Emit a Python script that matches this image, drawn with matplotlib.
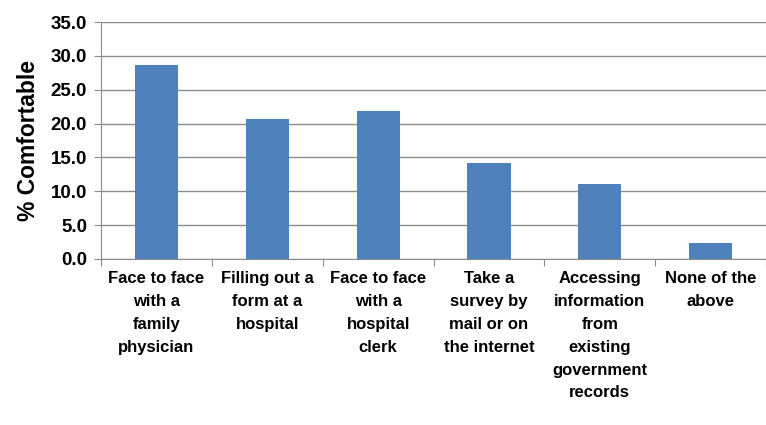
import numpy as np
import matplotlib.pyplot as plt

categories = ['Face to face\nwith a\nfamily\nphysician',
              'Filling out a\nform at a\nhospital',
              'Face to face\nwith a\nhospital\nclerk',
              'Take a\nsurvey by\nmail or on\nthe internet',
              'Accessing\ninformation\nfrom\nexisting\ngovernment\nrecords',
              'None of the\nabove']
comfortable = [28.6, 20.6, 21.9, 14.1, 11.1, 2.4]
yticks = [0, 5, 10, 15, 20, 25, 30, 35]

fig = plt.figure(figsize=(7.66, 4.25), dpi=100)
ax = fig.add_axes([0.132, 0.391, 0.868, 0.557])

x = np.arange(len(categories))
ax.bar(x, comfortable, width=0.39, color='#4F81BD', zorder=3)

ax.set_xlim(-0.5, len(categories) - 0.5)
ax.set_ylim(0, 35)
ax.set_yticks(yticks)
ax.set_yticklabels(['%.1f' % v for v in yticks], fontsize=13.5, fontweight='bold',
                   family=['Liberation Sans', 'DejaVu Sans'])
ax.yaxis.grid(True, color='#8c8c8c', linewidth=1, zorder=0)

# tick marks at category boundaries, labels centered under bars
ax.set_xticks(np.arange(len(categories) + 1) - 0.5)
ax.set_xticklabels([])
ax.set_xticks(x, minor=True)
ax.set_xticklabels(categories, minor=True, fontsize=12, fontweight='bold',
                   family=['Liberation Sans', 'DejaVu Sans'],
                   linespacing=1.65, va='top')
ax.tick_params(axis='x', which='minor', length=0, pad=9)
ax.tick_params(axis='x', which='major', length=5, color='#8c8c8c', direction='out')
ax.tick_params(axis='y', length=5, color='#8c8c8c', direction='out', pad=5)

for s in ['top', 'right']:
    ax.spines[s].set_visible(False)
for s in ['left', 'bottom']:
    ax.spines[s].set_color('#8c8c8c')

ax.set_ylabel('% Comfortable', fontsize=16.5, fontweight='bold',
              family=['Liberation Sans', 'DejaVu Sans'], labelpad=8)

fig.savefig('out.png', dpi=100)
